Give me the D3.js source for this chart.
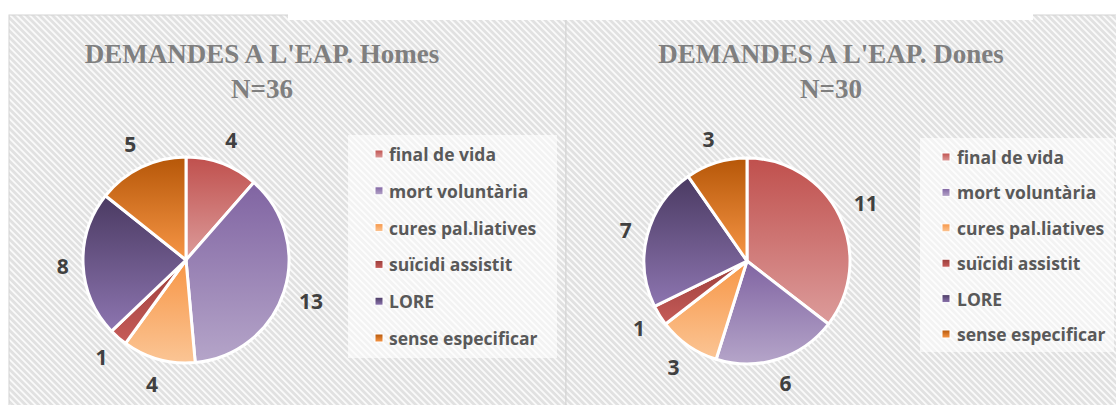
<!DOCTYPE html>
<html>
<head>
<meta charset="utf-8">
<script src="https://cdn.jsdelivr.net/npm/d3@7"></script>
<style>
    body { margin: 0; background: #fff; }
    svg { display: block; }
</style>
</head>
<body>
<script>
const categories = ['final de vida', 'mort voluntària', 'cures pal.liatives', 'suïcidi assistit', 'LORE', 'sense especificar'];
const homesValues = [4, 13, 4, 1, 8, 5];
const donesValues = [11, 6, 3, 1, 7, 3];
const titles = ["DEMANDES A L'EAP. Homes", "DEMANDES A L'EAP. Dones"];
const subtitles = ['N=36', 'N=30'];

const width = 1116;
const height = 405;

// top / bottom colour of each slice gradient
const gradients = [
    ['#c0504d', '#dc9c9b'],
    ['#8064a2', '#b5a5c9'],
    ['#f79646', '#fbc595'],
    ['#9b3d3a', '#c65c59'],
    ['#4a3a62', '#8d75b0'],
    ['#b65708', '#f79646']
];

const svg = d3.select('body')
    .append('svg')
    .attr('width', width)
    .attr('height', height);

const defs = svg.append('defs');

const stripes = defs.append('pattern')
    .attr('id', 'stripes')
    .attr('patternUnits', 'userSpaceOnUse')
    .attr('width', 4.6)
    .attr('height', 4.6)
    .attr('patternTransform', 'rotate(-45)');

stripes.append('rect')
    .attr('width', 4.6)
    .attr('height', 4.6)
    .attr('fill', '#e1e1e1');

stripes.append('rect')
    .attr('width', 1.8)
    .attr('height', 4.6)
    .attr('fill', '#fafafa');

gradients.forEach((g, i) => {
    const lg = defs.append('linearGradient')
        .attr('id', `grad${i}`)
        .attr('x1', 0).attr('y1', 0)
        .attr('x2', 0).attr('y2', 1);
    lg.append('stop').attr('offset', '0%').attr('stop-color', g[0]);
    lg.append('stop').attr('offset', '100%').attr('stop-color', g[1]);
});

// panels
const panels = [
    {x: 9, w: 557, cx: 186, cy: 260, r: 103, titleX: 262,
        legend: {x: 348, y: 135, w: 209, h: 223, markerX: 375, textX: 389, firstY: 154, step: 36.8},
        values: homesValues},
    {x: 566, w: 560, cx: 747, cy: 261, r: 103, titleX: 831,
        legend: {x: 920, y: 138, w: 194, h: 214, markerX: 942, textX: 957, firstY: 157, step: 35.4},
        values: donesValues}
];

panels.forEach((p) => {
    svg.append('rect')
        .attr('x', p.x)
        .attr('y', 15)
        .attr('width', p.w)
        .attr('height', height)
        .attr('fill', 'url(#stripes)')
        .attr('stroke', '#d4d4d4')
        .attr('stroke-width', 1);
});

svg.append('rect')
    .attr('x', 288)
    .attr('y', 0)
    .attr('width', 1033 - 288)
    .attr('height', 20)
    .attr('fill', '#fff');

const pie = d3.pie().sort(null).value(d => d);

const drawPanel = (p, idx) => {
    const g = svg.append('g');

    const title = g.append('text')
        .attr('x', p.titleX)
        .attr('text-anchor', 'middle')
        .attr('fill', '#7f7f7f')
        .style('font-family', '"Liberation Serif", serif')
        .style('font-weight', 'bold')
        .style('font-size', '27px');

    title.append('tspan').attr('x', p.titleX).attr('y', 63).text(titles[idx]);
    title.append('tspan').attr('x', p.titleX).attr('y', 98).text(subtitles[idx]);

    const arcs = pie(p.values);
    const arc = d3.arc().innerRadius(0).outerRadius(p.r);

    const pieG = g.append('g')
        .attr('transform', `translate(${p.cx},${p.cy})`);

    pieG.selectAll('path')
        .data(arcs)
        .join('path')
        .attr('d', arc)
        .attr('fill', (d, i) => `url(#grad${i})`)
        .attr('stroke', '#fff')
        .attr('stroke-width', 3)
        .attr('stroke-linejoin', 'round');

    // labels just outside the slice end
    const labels = pieG.selectAll('text.label')
        .data(arcs)
        .join('text')
        .attr('class', 'label')
        .attr('text-anchor', 'middle')
        .attr('dominant-baseline', 'central')
        .attr('fill', '#404040')
        .style('font-family', '"Open Sans", sans-serif')
        .style('font-weight', 'bold')
        .style('font-size', '21px')
        .text(d => d.data);

    labels.each(function (d) {
        const a = (d.startAngle + d.endAngle) / 2;
        const w = this.getComputedTextLength();
        const dist = p.r + 14 + Math.abs(Math.sin(a)) * w / 2 + Math.abs(Math.cos(a)) * 10;
        d3.select(this)
            .attr('x', Math.sin(a) * dist)
            .attr('y', -Math.cos(a) * dist);
    });

    // legend
    const L = p.legend;
    const legend = g.append('g');

    legend.append('rect')
        .attr('x', L.x)
        .attr('y', L.y)
        .attr('width', L.w)
        .attr('height', L.h)
        .attr('fill', '#fff')
        .attr('fill-opacity', 0.6);

    const items = legend.selectAll('g.item')
        .data(categories)
        .join('g')
        .attr('class', 'item')
        .attr('transform', (d, i) => `translate(0,${L.firstY + i * L.step})`);

    items.append('rect')
        .attr('x', L.markerX)
        .attr('y', -4)
        .attr('width', 8)
        .attr('height', 8)
        .attr('fill', (d, i) => `url(#grad${i})`)
        .attr('stroke', '#fff')
        .attr('stroke-width', 1);

    items.append('text')
        .attr('x', L.textX)
        .attr('dominant-baseline', 'central')
        .attr('fill', '#595959')
        .style('font-family', '"Open Sans", sans-serif')
        .style('font-weight', 'bold')
        .style('font-size', '17.5px')
        .text(d => d);
};

panels.forEach(drawPanel);
</script>
</body>
</html>
